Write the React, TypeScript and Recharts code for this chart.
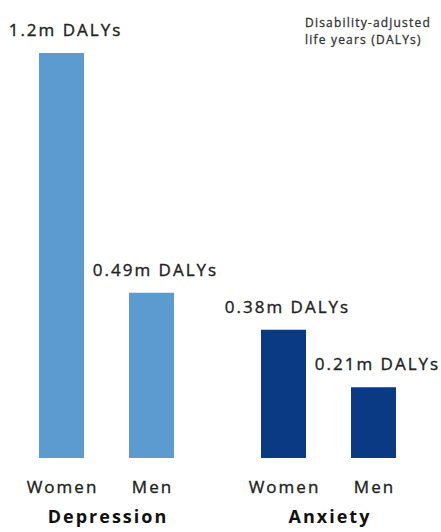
import React from 'react';
import { BarChart, Bar, XAxis, YAxis, Cell, LabelList } from 'recharts';

const GROUPS = ['Depression', 'Anxiety'];
const WOMEN_DALYS = [1.2, 0.38];
const MEN_DALYS = [0.49, 0.21];
const SEX_LABELS = ['Women', 'Men'];
const GROUP_COLORS = ['#5b9bd0', '#0b3a84'];

const data = GROUPS.map((g, i) => ({
  group: g,
  women: WOMEN_DALYS[i],
  men: MEN_DALYS[i],
}));

const FONT = '"Open Sans", "Noto Sans", sans-serif';
const TEXT = '#222';

// value above each bar, kept on one line
const valueLabel = (props: any) => {
  const { x, y, width, value } = props;
  return (
    <text
      x={x + width / 2 + 4}
      y={y - 17}
      textAnchor="middle"
      fontFamily={FONT}
      fontSize={17}
      letterSpacing={2}
      fill={TEXT}
      stroke={TEXT}
      strokeWidth={0.35}
    >
      {`${value}m DALYs`}
    </text>
  );
};

// label under each bar (Women / Men)
const sexLabel = (name: string) => (props: any) => {
  const { x, y, width, height } = props;
  return (
    <text
      x={x + width / 2 + 1}
      y={y + height + 35}
      textAnchor="middle"
      fontFamily={FONT}
      fontSize={17}
      letterSpacing={2}
      fill={TEXT}
      stroke={TEXT}
      strokeWidth={0.35}
    >
      {name}
    </text>
  );
};

const GroupTick = (props: any) => {
  const { x, y, payload } = props;
  return (
    <text
      x={x + 2}
      y={y + 57}
      textAnchor="middle"
      fontFamily={FONT}
      fontSize={18}
      fontWeight={700}
      letterSpacing={2}
      fill="#111"
    >
      {payload.value}
    </text>
  );
};

export default function App() {
  return (
    <div style={{ position: 'absolute', left: -5, top: 0, width: 444, height: 532 }}>
      <BarChart
        width={444}
        height={532}
        data={data}
        margin={{ top: 53, right: 0, bottom: 0, left: 0 }}
        barGap={45}
        barSize={45}
      >
        <XAxis
          dataKey="group"
          axisLine={false}
          tickLine={false}
          height={74}
          tick={<GroupTick />}
          interval={0}
        />
        <YAxis hide type="number" domain={[0, 1.2]} />
        <Bar dataKey="women" isAnimationActive={false}>
          {data.map((d, i) => (
            <Cell key={d.group} fill={GROUP_COLORS[i]} />
          ))}
          <LabelList dataKey="women" content={valueLabel} />
          <LabelList dataKey="women" content={sexLabel(SEX_LABELS[0])} />
        </Bar>
        <Bar dataKey="men" isAnimationActive={false}>
          {data.map((d, i) => (
            <Cell key={d.group} fill={GROUP_COLORS[i]} />
          ))}
          <LabelList dataKey="men" content={valueLabel} />
          <LabelList dataKey="men" content={sexLabel(SEX_LABELS[1])} />
        </Bar>
      </BarChart>
      <div
        style={{
          position: 'absolute',
          left: 310,
          top: 14,
          fontFamily: FONT,
          fontSize: 12,
          lineHeight: '17px',
          letterSpacing: 1.2,
          color: '#333',
          WebkitTextStroke: '0.3px #333',
          whiteSpace: 'nowrap',
        }}
      >
        Disability-adjusted
        <br />
        life years (DALYs)
      </div>
    </div>
  );
}
